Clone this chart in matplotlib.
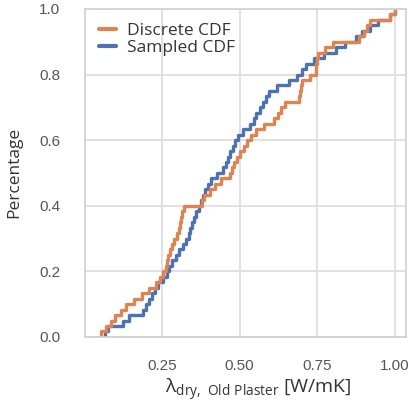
import matplotlib
matplotlib.use("Agg")
import matplotlib.pyplot as plt
import seaborn as sns

# sample values (60 values per curve, one per CDF step)
discrete = [
    0.055, 0.070, 0.085, 0.100, 0.120, 0.135, 0.160, 0.185, 0.210, 0.232,
    0.245, 0.255, 0.263, 0.267, 0.270, 0.276, 0.283, 0.290, 0.300, 0.305,
    0.309, 0.312, 0.316, 0.320, 0.378, 0.385, 0.405, 0.420, 0.440, 0.470,
    0.476, 0.482, 0.490, 0.502, 0.513, 0.523, 0.535, 0.552, 0.580, 0.610,
    0.625, 0.632, 0.645, 0.690, 0.695, 0.698, 0.700, 0.725, 0.745, 0.747,
    0.748, 0.752, 0.775, 0.800, 0.885, 0.900, 0.910, 0.920, 0.985, 1.000,
]
sampled = [
    0.068, 0.078, 0.125, 0.145, 0.190, 0.200, 0.208, 0.218, 0.228, 0.238,
    0.255, 0.265, 0.272, 0.281, 0.294, 0.305, 0.318, 0.328, 0.336, 0.342,
    0.348, 0.353, 0.359, 0.368, 0.375, 0.382, 0.389, 0.398, 0.408, 0.427,
    0.445, 0.455, 0.462, 0.470, 0.478, 0.486, 0.495, 0.510, 0.533, 0.545,
    0.553, 0.565, 0.575, 0.585, 0.596, 0.620, 0.660, 0.684, 0.700, 0.715,
    0.740, 0.770, 0.810, 0.840, 0.875, 0.895, 0.920, 0.945, 0.985, 1.000,
]
labels = ["Discrete CDF", "Sampled CDF"]
x_ticks = [0.25, 0.50, 0.75, 1.00]
y_ticks = [0.0, 0.2, 0.4, 0.6, 0.8, 1.0]

sns.set_theme(style="whitegrid")
plt.rcParams["font.family"] = ["Liberation Sans", "DejaVu Sans"]
plt.rcParams["mathtext.fontset"] = "custom"
plt.rcParams["mathtext.rm"] = "Open Sans"

orange = "#DD8452"
blue = "#4C72B0"

fig = plt.figure(figsize=(4.13, 4.05), dpi=100)
ax = fig.add_axes([0.206, 0.168, 0.777, 0.810])

sns.ecdfplot(x=sampled, ax=ax, color=blue, lw=2.4, label=labels[1])
sns.ecdfplot(x=discrete, ax=ax, color=orange, lw=2.4, label=labels[0])

ax.set_xlim(0.003, 1.035)
ax.set_ylim(0, 1)
ax.set_xticks(x_ticks)
ax.set_xticklabels([f"{t:.2f}" for t in x_ticks])
ax.set_yticks(y_ticks)
ax.set_yticklabels([f"{t:.1f}" for t in y_ticks])
ax.tick_params(axis="x", labelsize=11, pad=10, colors="#555555")
ax.tick_params(axis="y", labelsize=11, pad=12, colors="#555555")
for s in ax.spines.values():
    s.set_color("#d0d0d0")
    s.set_linewidth(1.2)
ax.grid(color="#dcdcdc", lw=1.2)

ax.set_ylabel("Percentage", family="Open Sans", fontsize=12.5, color="#333333", labelpad=12)
ax.set_xlabel(r"$\mathrm{λ_{dry,\ Old\ Plaster}}$ [W/mK]", family="Open Sans",
              fontsize=14, color="#333333")
ax.xaxis.set_label_coords(0.54, -0.122)

h, l = ax.get_legend_handles_labels()
leg = ax.legend(h[::-1], l[::-1], loc="upper left", frameon=False,
                prop={"family": "Open Sans", "size": 12.5},
                handlelength=1.0, handletextpad=0.6, labelspacing=0.05,
                borderaxespad=0.4)
for t in leg.get_texts():
    t.set_color("#333333")
for ln in leg.get_lines():
    ln.set_linewidth(3)

fig.savefig("out.png", dpi=100)
